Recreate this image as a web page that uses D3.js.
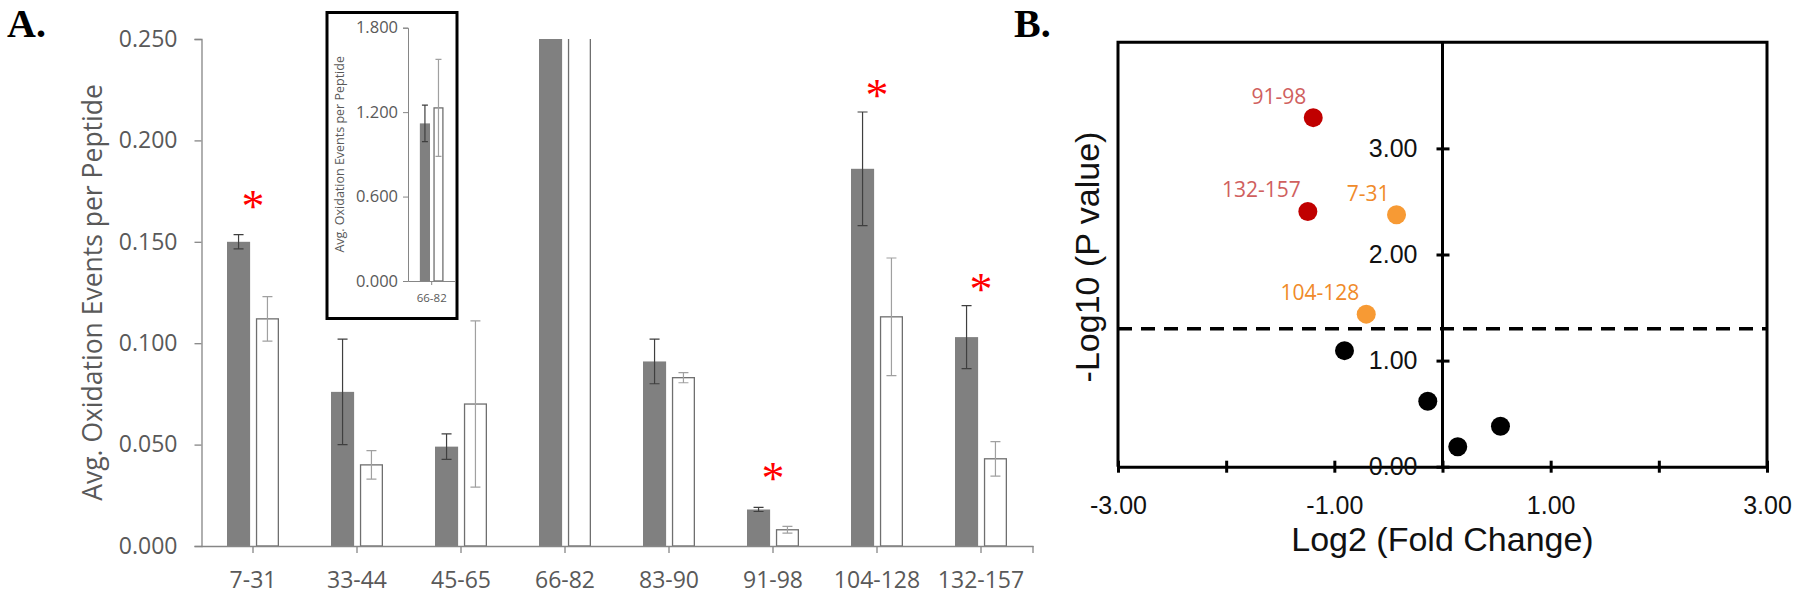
<!DOCTYPE html>
<html><head><meta charset="utf-8">
<script src="https://cdnjs.cloudflare.com/ajax/libs/d3/7.8.5/d3.min.js"></script>
<style>body{margin:0;background:#fff}svg{display:block}</style>
</head><body>
<svg id="c" width="1800" height="595"></svg>
<script>
// ---------- Panel A data ----------
const peptides    = ["7-31","33-44","45-65","66-82","83-90","91-98","104-128","132-157"];
const seriesNames = ["treated","control"];
const grayMeans   = [0.150, 0.076, 0.049, 1.120, 0.091, 0.018, 0.186, 0.103];
const grayErrs    = [0.0035,0.026, 0.0063,0.130, 0.011, 0.001, 0.028, 0.0155];
const whiteMeans  = [0.112, 0.040, 0.070, 1.230, 0.083, 0.008, 0.113, 0.043];
const whiteErrs   = [0.011, 0.007, 0.041, 0.345, 0.0025,0.0017,0.029, 0.0085];
const starPeptides = ["7-31","91-98","104-128","132-157"];
const starLevels   = [0.170, 0.036, 0.225, 0.129];
const yTicksA      = [0, 0.05, 0.10, 0.15, 0.20, 0.25];
const insetPeptides = ["66-82"];
const insetTicks    = [0, 0.6, 1.2, 1.8];
const yTitleA = "Avg. Oxidation Events per Peptide";

// ---------- Panel B data ----------
const volcanoPeptides = ["91-98","132-157","7-31","104-128","33-44","83-90","66-82","45-65"];
const log2FC          = [-1.195, -1.245, -0.425, -0.705, -0.906, -0.136, 0.141, 0.536];
const negLog10P       = [3.29, 2.406, 2.375, 1.438, 1.094, 0.616, 0.1875, 0.382];
const pointGroup      = ["high","high","mid","mid","ns","ns","ns","ns"];
const xTicksB  = [-3,-2,-1,0,1,2,3];
const xLabelsB = [-3,-1,1,3];
const yTicksB  = [0,1,2,3];
const pThreshold = 1.301;

const svg = d3.select("#c");
const sans = "'Open Sans', sans-serif";
const arial = "'Liberation Sans', Arial, sans-serif";
const serif = "'Liberation Serif', 'Times New Roman', serif";
const txtGray = "#595959", axGray = "#868686", barGray = "#808080";

// ================= PANEL A =================
const xA = d3.scaleBand(peptides, [201, 1033]).paddingInner(0.5).paddingOuter(0.25);
const xSub = d3.scaleBand(seriesNames, [0, xA.bandwidth()]).paddingInner(0.2);
const yA = d3.scaleLinear([0, 0.25], [546, 39]);

svg.append("defs").append("clipPath").attr("id","clipA")
  .append("rect").attr("x", xA.range()[0]).attr("y", yA(0.25))
  .attr("width", xA.range()[1]-xA.range()[0]).attr("height", yA(0)-yA(0.25));

const rows = peptides.map((p,i)=>({p, g:grayMeans[i], ge:grayErrs[i], w:whiteMeans[i], we:whiteErrs[i]}));
const gA = svg.append("g").attr("clip-path","url(#clipA)");

function drawBars(g, rowsData, x, sub, y, capW){
  const grp = g.selectAll("g.grp").data(rowsData).join("g").attr("class","grp")
    .attr("transform", d=>`translate(${x(d.p)},0)`);
  grp.append("rect").attr("x", sub("treated")).attr("width", sub.bandwidth())
    .attr("y", d=>y(d.g)).attr("height", d=>y(0)-y(d.g)).attr("fill", barGray);
  grp.append("rect").attr("x", sub("control")+0.65).attr("width", sub.bandwidth()-1.3)
    .attr("y", d=>y(d.w)).attr("height", d=>y(0)-y(d.w)).attr("fill","#fff")
    .attr("stroke","#6f6f6f").attr("stroke-width",1.3);
  const eb = (key, ekey, s, col)=>{
    const cx = sub(s)+sub.bandwidth()/2;
    grp.append("path").attr("fill","none").attr("stroke",col).attr("stroke-width",1.2)
      .attr("d", d=>`M${cx},${y(d[key]+d[ekey])}V${y(d[key]-d[ekey])}`
        +`M${cx-capW/2},${y(d[key]+d[ekey])}h${capW}M${cx-capW/2},${y(d[key]-d[ekey])}h${capW}`);
  };
  eb("g","ge","treated","#3f3f3f");
  eb("w","we","control","#a0a0a0");
}
drawBars(gA, rows, xA, xSub, yA, 10);

// y axis A
const axY = svg.append("g").attr("transform",`translate(${xA.range()[0]+0.5},0)`)
  .call(d3.axisLeft(yA).tickValues(yTicksA).tickFormat(d3.format(".3f")).tickSize(7).tickPadding(17));
axY.select(".domain").attr("stroke",axGray).attr("stroke-width",1.3);
axY.selectAll(".tick line").attr("stroke",axGray).attr("stroke-width",1.3);
axY.selectAll("text").attr("font-family",sans).attr("font-size",23).attr("fill",txtGray);

// x axis A
const axX = svg.append("g").attr("transform",`translate(0,${yA(0)})`)
  .call(d3.axisBottom(xA).tickSize(7).tickSizeOuter(0).tickPadding(19));
axX.select(".domain").attr("stroke",axGray).attr("stroke-width",1.3);
axX.selectAll(".tick line").attr("stroke",axGray).attr("stroke-width",1.3);
axX.selectAll("text").attr("font-family",sans).attr("font-size",23).attr("fill",txtGray);
axX.append("line").attr("x1",xA.range()[1]).attr("x2",xA.range()[1]).attr("y1",0).attr("y2",7)
  .attr("stroke",axGray).attr("stroke-width",1.3);

// y title A
svg.append("text").attr("transform",`translate(102,${(yA(0)+yA(0.25))/2}) rotate(-90)`)
  .attr("text-anchor","middle").attr("font-family",sans).attr("font-size",26.5).attr("fill",txtGray)
  .text(yTitleA);

// asterisks
svg.selectAll("text.star").data(starPeptides).join("text").attr("class","star")
  .attr("x", p=>xA(p)+xA.bandwidth()/2)
  .attr("y", (p,i)=>yA(starLevels[i])+21)
  .attr("text-anchor","middle").attr("font-family",serif).attr("font-size",46).attr("fill","#ff0000")
  .text("*");

// ---- inset ----
svg.append("rect").attr("x",327).attr("y",12.5).attr("width",130).attr("height",306)
  .attr("fill","#fff").attr("stroke","#000").attr("stroke-width",3);
const yIn = d3.scaleLinear([0,1.8],[281,27.7]);
const xIn = d3.scaleBand(insetPeptides,[408,455.4]).paddingInner(0.5).paddingOuter(0.25);
const xInSub = d3.scaleBand(seriesNames,[0,xIn.bandwidth()]).paddingInner(0.25);
const gIn = svg.append("g");
drawBars(gIn, rows.filter(r=>insetPeptides.includes(r.p)), xIn, xInSub, yIn, 6);
const axYi = svg.append("g").attr("transform","translate(408,0)")
  .call(d3.axisLeft(yIn).tickValues(insetTicks).tickFormat(d3.format(".3f")).tickSize(5).tickPadding(5));
axYi.select(".domain").attr("stroke",axGray).attr("stroke-width",1);
axYi.selectAll(".tick line").attr("stroke",axGray);
axYi.selectAll("text").attr("font-family",sans).attr("font-size",16.5).attr("fill",txtGray);
const axXi = svg.append("g").attr("transform",`translate(0,${yIn(0)})`)
  .call(d3.axisBottom(xIn).tickSize(4).tickSizeOuter(0).tickPadding(9));
axXi.select(".domain").attr("stroke",axGray).attr("stroke-width",1);
axXi.selectAll(".tick line").attr("stroke",axGray);
axXi.selectAll("text").attr("font-family",sans).attr("font-size",11.5).attr("fill",txtGray);
svg.append("text").attr("transform",`translate(344,${(yIn(0)+yIn(1.8))/2}) rotate(-90)`)
  .attr("text-anchor","middle").attr("font-family",sans).attr("font-size",12.5).attr("fill",txtGray)
  .text(yTitleA);

// panel letters
svg.append("text").attr("x",7).attr("y",37).attr("font-family",serif).attr("font-weight","bold")
  .attr("font-size",40).attr("fill","#000").text("A.");
svg.append("text").attr("x",1014).attr("y",37).attr("font-family",serif).attr("font-weight","bold")
  .attr("font-size",40).attr("fill","#000").text("B.");

// ================= PANEL B =================
const xB = d3.scaleLinear([-3,3],[1118,1767]);
const yB = d3.scaleLinear([0,4],[466.7,42.3]);
const gB = svg.append("g");
gB.append("path").attr("fill","none").attr("stroke","#000").attr("stroke-width",3)
  .attr("d",`M${xB(-3)},${yB(0)}V${yB(4)}H${xB(3)}V${yB(0)}`);
gB.append("line").attr("x1",xB(0)).attr("x2",xB(0)).attr("y1",yB(4)).attr("y2",yB(0))
  .attr("stroke","#000").attr("stroke-width",3);
gB.append("line").attr("x1",xB(-3)).attr("x2",xB(3)).attr("y1",yB(pThreshold)).attr("y2",yB(pThreshold))
  .attr("stroke","#000").attr("stroke-width",3.5).attr("stroke-dasharray","14,9");

// x axis B
const axXB = gB.append("g").attr("transform",`translate(0,${yB(0)})`)
  .call(d3.axisBottom(xB).tickValues(xTicksB).tickSize(6).tickSizeOuter(0).tickPadding(24)
    .tickFormat(d=>xLabelsB.includes(d)? d3.format(".2f")(d).replace("−","-") : ""));
axXB.select(".domain").attr("stroke","#000").attr("stroke-width",3);
axXB.selectAll(".tick line").attr("stroke","#000").attr("stroke-width",3).attr("y1",-6);
axXB.selectAll("text").attr("font-family",arial).attr("font-size",25).attr("fill","#111");

// y axis B (at x = 0)
const axYB = gB.append("g").attr("transform",`translate(${xB(0)},0)`)
  .call(d3.axisLeft(yB).tickValues(yTicksB).tickSize(6).tickSizeOuter(0).tickPadding(19)
    .tickFormat(d3.format(".2f")));
axYB.select(".domain").remove();
axYB.selectAll(".tick line").attr("stroke","#000").attr("stroke-width",3).attr("x1",7);
axYB.selectAll("text").attr("font-family",arial).attr("font-size",25).attr("fill","#111");

// titles B
gB.append("text").attr("x",(xB(-3)+xB(3))/2).attr("y",551).attr("text-anchor","middle")
  .attr("font-family",arial).attr("font-size",34).attr("fill","#111").text("Log2 (Fold Change)");
gB.append("text").attr("transform",`translate(1099,257) rotate(-90)`).attr("text-anchor","middle")
  .attr("font-family",arial).attr("font-size",34).attr("fill","#111").text("-Log10 (P value)");

// points
const colorFill = {high:"#c00000", mid:"#f79a34", ns:"#000000"};
const colorLabel = {high:"#d0605e", mid:"#f08a2a"};
const pts = volcanoPeptides.map((p,i)=>({p, x:log2FC[i], y:negLog10P[i], g:pointGroup[i]}));
gB.selectAll("circle.pt").data(pts).join("circle").attr("class","pt")
  .attr("cx",d=>xB(d.x)).attr("cy",d=>yB(d.y)).attr("r",9.5).attr("fill",d=>colorFill[d.g]);
gB.selectAll("text.pl").data(pts.filter(d=>d.g!=="ns")).join("text").attr("class","pl")
  .attr("x",d=>xB(d.x)-7).attr("y",d=>yB(d.y)-14).attr("text-anchor","end")
  .attr("font-family",sans).attr("font-size",21).attr("fill",d=>colorLabel[d.g]).text(d=>d.p);
</script>
</body></html>
